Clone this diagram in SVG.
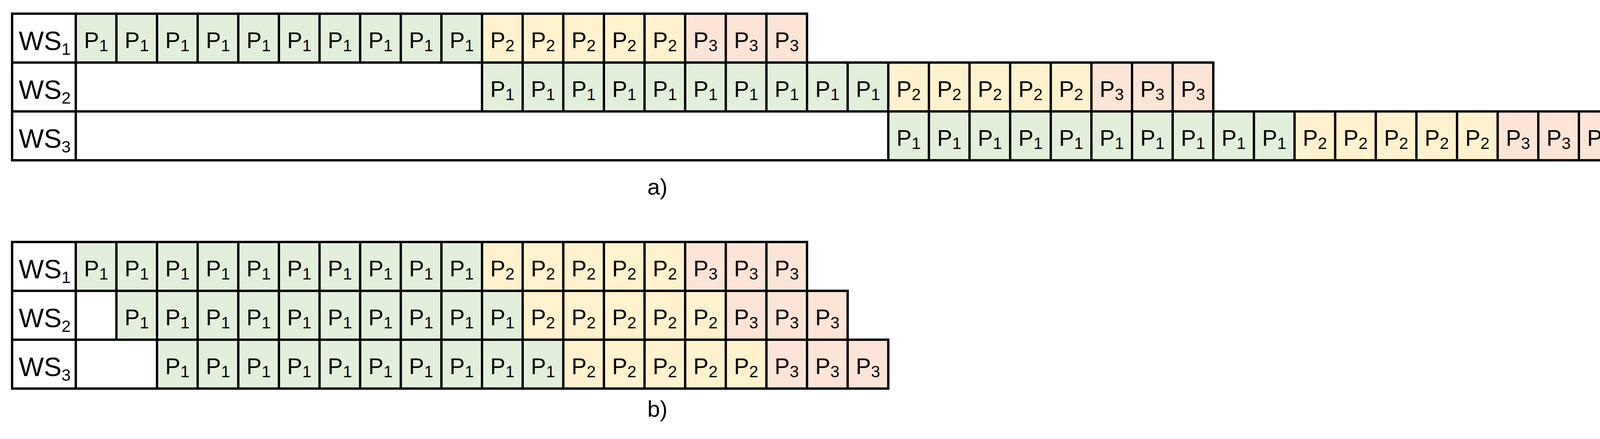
<svg xmlns="http://www.w3.org/2000/svg" width="4176" height="1123" viewBox="0 0 4176 1123">
<style>
.cell{stroke:#000;stroke-width:6}
.w{fill:#fff}.g{fill:#e2efda}.y{fill:#fff2cc}.r{fill:#fce4d6}
text{font-family:"Liberation Sans","Open Sans",sans-serif;fill:#000}
.p{font-size:58px;text-anchor:middle}
.ps{font-size:58px;text-anchor:start}
.l{font-size:68px}
.s{font-size:42px}
.c{font-size:58px;text-anchor:middle}
</style>
<defs/>
<g id="a-ws1" class="cell">
<rect class="w" x="31" y="35" width="163" height="125"/>
<rect class="g" x="194" y="35" width="104" height="125"/>
<rect class="g" x="298" y="35" width="104" height="125"/>
<rect class="g" x="402" y="35" width="104" height="125"/>
<rect class="g" x="506" y="35" width="104" height="125"/>
<rect class="g" x="610" y="35" width="104" height="125"/>
<rect class="g" x="714" y="35" width="104" height="125"/>
<rect class="g" x="818" y="35" width="104" height="125"/>
<rect class="g" x="922" y="35" width="104" height="125"/>
<rect class="g" x="1026" y="35" width="104" height="125"/>
<rect class="g" x="1130" y="35" width="104" height="125"/>
<rect class="y" x="1234" y="35" width="104" height="125"/>
<rect class="y" x="1338" y="35" width="104" height="125"/>
<rect class="y" x="1442" y="35" width="104" height="125"/>
<rect class="y" x="1546" y="35" width="104" height="125"/>
<rect class="y" x="1650" y="35" width="104" height="125"/>
<rect class="r" x="1754" y="35" width="104" height="125"/>
<rect class="r" x="1858" y="35" width="104" height="125"/>
<rect class="r" x="1962" y="35" width="104" height="125"/>
<g stroke="none">
<text class="l" x="48" y="128">WS<tspan class="s" dy="12">1</tspan></text>
<text class="p" x="246" y="123">P<tspan class="s" dy="8">1</tspan></text>
<text class="p" x="350" y="123">P<tspan class="s" dy="8">1</tspan></text>
<text class="p" x="454" y="123">P<tspan class="s" dy="8">1</tspan></text>
<text class="p" x="558" y="123">P<tspan class="s" dy="8">1</tspan></text>
<text class="p" x="662" y="123">P<tspan class="s" dy="8">1</tspan></text>
<text class="p" x="766" y="123">P<tspan class="s" dy="8">1</tspan></text>
<text class="p" x="870" y="123">P<tspan class="s" dy="8">1</tspan></text>
<text class="p" x="974" y="123">P<tspan class="s" dy="8">1</tspan></text>
<text class="p" x="1078" y="123">P<tspan class="s" dy="8">1</tspan></text>
<text class="p" x="1182" y="123">P<tspan class="s" dy="8">1</tspan></text>
<text class="p" x="1286" y="123">P<tspan class="s" dy="8">2</tspan></text>
<text class="p" x="1390" y="123">P<tspan class="s" dy="8">2</tspan></text>
<text class="p" x="1494" y="123">P<tspan class="s" dy="8">2</tspan></text>
<text class="p" x="1598" y="123">P<tspan class="s" dy="8">2</tspan></text>
<text class="p" x="1702" y="123">P<tspan class="s" dy="8">2</tspan></text>
<text class="p" x="1806" y="123">P<tspan class="s" dy="8">3</tspan></text>
<text class="p" x="1910" y="123">P<tspan class="s" dy="8">3</tspan></text>
<text class="p" x="2014" y="123">P<tspan class="s" dy="8">3</tspan></text>
</g>
</g>
<g id="a-ws2" class="cell">
<rect class="w" x="31" y="160" width="163" height="125"/>
<rect class="w" x="194" y="160" width="1040" height="125"/>
<rect class="g" x="1234" y="160" width="104" height="125"/>
<rect class="g" x="1338" y="160" width="104" height="125"/>
<rect class="g" x="1442" y="160" width="104" height="125"/>
<rect class="g" x="1546" y="160" width="104" height="125"/>
<rect class="g" x="1650" y="160" width="104" height="125"/>
<rect class="g" x="1754" y="160" width="104" height="125"/>
<rect class="g" x="1858" y="160" width="104" height="125"/>
<rect class="g" x="1962" y="160" width="104" height="125"/>
<rect class="g" x="2066" y="160" width="104" height="125"/>
<rect class="g" x="2170" y="160" width="104" height="125"/>
<rect class="y" x="2274" y="160" width="104" height="125"/>
<rect class="y" x="2378" y="160" width="104" height="125"/>
<rect class="y" x="2482" y="160" width="104" height="125"/>
<rect class="y" x="2586" y="160" width="104" height="125"/>
<rect class="y" x="2690" y="160" width="104" height="125"/>
<rect class="r" x="2794" y="160" width="104" height="125"/>
<rect class="r" x="2898" y="160" width="104" height="125"/>
<rect class="r" x="3002" y="160" width="104" height="125"/>
<g stroke="none">
<text class="l" x="48" y="253">WS<tspan class="s" dy="12">2</tspan></text>
<text class="p" x="1286" y="248">P<tspan class="s" dy="8">1</tspan></text>
<text class="p" x="1390" y="248">P<tspan class="s" dy="8">1</tspan></text>
<text class="p" x="1494" y="248">P<tspan class="s" dy="8">1</tspan></text>
<text class="p" x="1598" y="248">P<tspan class="s" dy="8">1</tspan></text>
<text class="p" x="1702" y="248">P<tspan class="s" dy="8">1</tspan></text>
<text class="p" x="1806" y="248">P<tspan class="s" dy="8">1</tspan></text>
<text class="p" x="1910" y="248">P<tspan class="s" dy="8">1</tspan></text>
<text class="p" x="2014" y="248">P<tspan class="s" dy="8">1</tspan></text>
<text class="p" x="2118" y="248">P<tspan class="s" dy="8">1</tspan></text>
<text class="p" x="2222" y="248">P<tspan class="s" dy="8">1</tspan></text>
<text class="p" x="2326" y="248">P<tspan class="s" dy="8">2</tspan></text>
<text class="p" x="2430" y="248">P<tspan class="s" dy="8">2</tspan></text>
<text class="p" x="2534" y="248">P<tspan class="s" dy="8">2</tspan></text>
<text class="p" x="2638" y="248">P<tspan class="s" dy="8">2</tspan></text>
<text class="p" x="2742" y="248">P<tspan class="s" dy="8">2</tspan></text>
<text class="p" x="2846" y="248">P<tspan class="s" dy="8">3</tspan></text>
<text class="p" x="2950" y="248">P<tspan class="s" dy="8">3</tspan></text>
<text class="p" x="3054" y="248">P<tspan class="s" dy="8">3</tspan></text>
</g>
</g>
<g id="a-ws3" class="cell">
<rect class="w" x="31" y="285" width="163" height="125"/>
<rect class="w" x="194" y="285" width="2080" height="125"/>
<rect class="g" x="2274" y="285" width="104" height="125"/>
<rect class="g" x="2378" y="285" width="104" height="125"/>
<rect class="g" x="2482" y="285" width="104" height="125"/>
<rect class="g" x="2586" y="285" width="104" height="125"/>
<rect class="g" x="2690" y="285" width="104" height="125"/>
<rect class="g" x="2794" y="285" width="104" height="125"/>
<rect class="g" x="2898" y="285" width="104" height="125"/>
<rect class="g" x="3002" y="285" width="104" height="125"/>
<rect class="g" x="3106" y="285" width="104" height="125"/>
<rect class="g" x="3210" y="285" width="104" height="125"/>
<rect class="y" x="3314" y="285" width="104" height="125"/>
<rect class="y" x="3418" y="285" width="104" height="125"/>
<rect class="y" x="3522" y="285" width="104" height="125"/>
<rect class="y" x="3626" y="285" width="104" height="125"/>
<rect class="y" x="3730" y="285" width="104" height="125"/>
<rect class="r" x="3834" y="285" width="104" height="125"/>
<rect class="r" x="3938" y="285" width="104" height="125"/>
<rect class="r" x="4042" y="285" width="104" height="125"/>
<g stroke="none">
<text class="l" x="48" y="378">WS<tspan class="s" dy="12">3</tspan></text>
<text class="p" x="2326" y="373">P<tspan class="s" dy="8">1</tspan></text>
<text class="p" x="2430" y="373">P<tspan class="s" dy="8">1</tspan></text>
<text class="p" x="2534" y="373">P<tspan class="s" dy="8">1</tspan></text>
<text class="p" x="2638" y="373">P<tspan class="s" dy="8">1</tspan></text>
<text class="p" x="2742" y="373">P<tspan class="s" dy="8">1</tspan></text>
<text class="p" x="2846" y="373">P<tspan class="s" dy="8">1</tspan></text>
<text class="p" x="2950" y="373">P<tspan class="s" dy="8">1</tspan></text>
<text class="p" x="3054" y="373">P<tspan class="s" dy="8">1</tspan></text>
<text class="p" x="3158" y="373">P<tspan class="s" dy="8">1</tspan></text>
<text class="p" x="3262" y="373">P<tspan class="s" dy="8">1</tspan></text>
<text class="p" x="3366" y="373">P<tspan class="s" dy="8">2</tspan></text>
<text class="p" x="3470" y="373">P<tspan class="s" dy="8">2</tspan></text>
<text class="p" x="3574" y="373">P<tspan class="s" dy="8">2</tspan></text>
<text class="p" x="3678" y="373">P<tspan class="s" dy="8">2</tspan></text>
<text class="p" x="3782" y="373">P<tspan class="s" dy="8">2</tspan></text>
<text class="p" x="3886" y="373">P<tspan class="s" dy="8">3</tspan></text>
<text class="p" x="3990" y="373">P<tspan class="s" dy="8">3</tspan></text>
<text class="ps" x="4063" y="373">P<tspan class="s" dy="8">3</tspan></text>
</g>
</g>
<text id="label-a" class="c" x="1683" y="498">a)</text>
<g id="b-ws1" class="cell">
<rect class="w" x="31" y="619" width="163" height="125"/>
<rect class="g" x="194" y="619" width="104" height="125"/>
<rect class="g" x="298" y="619" width="104" height="125"/>
<rect class="g" x="402" y="619" width="104" height="125"/>
<rect class="g" x="506" y="619" width="104" height="125"/>
<rect class="g" x="610" y="619" width="104" height="125"/>
<rect class="g" x="714" y="619" width="104" height="125"/>
<rect class="g" x="818" y="619" width="104" height="125"/>
<rect class="g" x="922" y="619" width="104" height="125"/>
<rect class="g" x="1026" y="619" width="104" height="125"/>
<rect class="g" x="1130" y="619" width="104" height="125"/>
<rect class="y" x="1234" y="619" width="104" height="125"/>
<rect class="y" x="1338" y="619" width="104" height="125"/>
<rect class="y" x="1442" y="619" width="104" height="125"/>
<rect class="y" x="1546" y="619" width="104" height="125"/>
<rect class="y" x="1650" y="619" width="104" height="125"/>
<rect class="r" x="1754" y="619" width="104" height="125"/>
<rect class="r" x="1858" y="619" width="104" height="125"/>
<rect class="r" x="1962" y="619" width="104" height="125"/>
<g stroke="none">
<text class="l" x="48" y="712">WS<tspan class="s" dy="12">1</tspan></text>
<text class="p" x="246" y="707">P<tspan class="s" dy="8">1</tspan></text>
<text class="p" x="350" y="707">P<tspan class="s" dy="8">1</tspan></text>
<text class="p" x="454" y="707">P<tspan class="s" dy="8">1</tspan></text>
<text class="p" x="558" y="707">P<tspan class="s" dy="8">1</tspan></text>
<text class="p" x="662" y="707">P<tspan class="s" dy="8">1</tspan></text>
<text class="p" x="766" y="707">P<tspan class="s" dy="8">1</tspan></text>
<text class="p" x="870" y="707">P<tspan class="s" dy="8">1</tspan></text>
<text class="p" x="974" y="707">P<tspan class="s" dy="8">1</tspan></text>
<text class="p" x="1078" y="707">P<tspan class="s" dy="8">1</tspan></text>
<text class="p" x="1182" y="707">P<tspan class="s" dy="8">1</tspan></text>
<text class="p" x="1286" y="707">P<tspan class="s" dy="8">2</tspan></text>
<text class="p" x="1390" y="707">P<tspan class="s" dy="8">2</tspan></text>
<text class="p" x="1494" y="707">P<tspan class="s" dy="8">2</tspan></text>
<text class="p" x="1598" y="707">P<tspan class="s" dy="8">2</tspan></text>
<text class="p" x="1702" y="707">P<tspan class="s" dy="8">2</tspan></text>
<text class="p" x="1806" y="707">P<tspan class="s" dy="8">3</tspan></text>
<text class="p" x="1910" y="707">P<tspan class="s" dy="8">3</tspan></text>
<text class="p" x="2014" y="707">P<tspan class="s" dy="8">3</tspan></text>
</g>
</g>
<g id="b-ws2" class="cell">
<rect class="w" x="31" y="744" width="163" height="125"/>
<rect class="w" x="194" y="744" width="104" height="125"/>
<rect class="g" x="298" y="744" width="104" height="125"/>
<rect class="g" x="402" y="744" width="104" height="125"/>
<rect class="g" x="506" y="744" width="104" height="125"/>
<rect class="g" x="610" y="744" width="104" height="125"/>
<rect class="g" x="714" y="744" width="104" height="125"/>
<rect class="g" x="818" y="744" width="104" height="125"/>
<rect class="g" x="922" y="744" width="104" height="125"/>
<rect class="g" x="1026" y="744" width="104" height="125"/>
<rect class="g" x="1130" y="744" width="104" height="125"/>
<rect class="g" x="1234" y="744" width="104" height="125"/>
<rect class="y" x="1338" y="744" width="104" height="125"/>
<rect class="y" x="1442" y="744" width="104" height="125"/>
<rect class="y" x="1546" y="744" width="104" height="125"/>
<rect class="y" x="1650" y="744" width="104" height="125"/>
<rect class="y" x="1754" y="744" width="104" height="125"/>
<rect class="r" x="1858" y="744" width="104" height="125"/>
<rect class="r" x="1962" y="744" width="104" height="125"/>
<rect class="r" x="2066" y="744" width="104" height="125"/>
<g stroke="none">
<text class="l" x="48" y="837">WS<tspan class="s" dy="12">2</tspan></text>
<text class="p" x="350" y="832">P<tspan class="s" dy="8">1</tspan></text>
<text class="p" x="454" y="832">P<tspan class="s" dy="8">1</tspan></text>
<text class="p" x="558" y="832">P<tspan class="s" dy="8">1</tspan></text>
<text class="p" x="662" y="832">P<tspan class="s" dy="8">1</tspan></text>
<text class="p" x="766" y="832">P<tspan class="s" dy="8">1</tspan></text>
<text class="p" x="870" y="832">P<tspan class="s" dy="8">1</tspan></text>
<text class="p" x="974" y="832">P<tspan class="s" dy="8">1</tspan></text>
<text class="p" x="1078" y="832">P<tspan class="s" dy="8">1</tspan></text>
<text class="p" x="1182" y="832">P<tspan class="s" dy="8">1</tspan></text>
<text class="p" x="1286" y="832">P<tspan class="s" dy="8">1</tspan></text>
<text class="p" x="1390" y="832">P<tspan class="s" dy="8">2</tspan></text>
<text class="p" x="1494" y="832">P<tspan class="s" dy="8">2</tspan></text>
<text class="p" x="1598" y="832">P<tspan class="s" dy="8">2</tspan></text>
<text class="p" x="1702" y="832">P<tspan class="s" dy="8">2</tspan></text>
<text class="p" x="1806" y="832">P<tspan class="s" dy="8">2</tspan></text>
<text class="p" x="1910" y="832">P<tspan class="s" dy="8">3</tspan></text>
<text class="p" x="2014" y="832">P<tspan class="s" dy="8">3</tspan></text>
<text class="p" x="2118" y="832">P<tspan class="s" dy="8">3</tspan></text>
</g>
</g>
<g id="b-ws3" class="cell">
<rect class="w" x="31" y="869" width="163" height="125"/>
<rect class="w" x="194" y="869" width="208" height="125"/>
<rect class="g" x="402" y="869" width="104" height="125"/>
<rect class="g" x="506" y="869" width="104" height="125"/>
<rect class="g" x="610" y="869" width="104" height="125"/>
<rect class="g" x="714" y="869" width="104" height="125"/>
<rect class="g" x="818" y="869" width="104" height="125"/>
<rect class="g" x="922" y="869" width="104" height="125"/>
<rect class="g" x="1026" y="869" width="104" height="125"/>
<rect class="g" x="1130" y="869" width="104" height="125"/>
<rect class="g" x="1234" y="869" width="104" height="125"/>
<rect class="g" x="1338" y="869" width="104" height="125"/>
<rect class="y" x="1442" y="869" width="104" height="125"/>
<rect class="y" x="1546" y="869" width="104" height="125"/>
<rect class="y" x="1650" y="869" width="104" height="125"/>
<rect class="y" x="1754" y="869" width="104" height="125"/>
<rect class="y" x="1858" y="869" width="104" height="125"/>
<rect class="r" x="1962" y="869" width="104" height="125"/>
<rect class="r" x="2066" y="869" width="104" height="125"/>
<rect class="r" x="2170" y="869" width="104" height="125"/>
<g stroke="none">
<text class="l" x="48" y="962">WS<tspan class="s" dy="12">3</tspan></text>
<text class="p" x="454" y="957">P<tspan class="s" dy="8">1</tspan></text>
<text class="p" x="558" y="957">P<tspan class="s" dy="8">1</tspan></text>
<text class="p" x="662" y="957">P<tspan class="s" dy="8">1</tspan></text>
<text class="p" x="766" y="957">P<tspan class="s" dy="8">1</tspan></text>
<text class="p" x="870" y="957">P<tspan class="s" dy="8">1</tspan></text>
<text class="p" x="974" y="957">P<tspan class="s" dy="8">1</tspan></text>
<text class="p" x="1078" y="957">P<tspan class="s" dy="8">1</tspan></text>
<text class="p" x="1182" y="957">P<tspan class="s" dy="8">1</tspan></text>
<text class="p" x="1286" y="957">P<tspan class="s" dy="8">1</tspan></text>
<text class="p" x="1390" y="957">P<tspan class="s" dy="8">1</tspan></text>
<text class="p" x="1494" y="957">P<tspan class="s" dy="8">2</tspan></text>
<text class="p" x="1598" y="957">P<tspan class="s" dy="8">2</tspan></text>
<text class="p" x="1702" y="957">P<tspan class="s" dy="8">2</tspan></text>
<text class="p" x="1806" y="957">P<tspan class="s" dy="8">2</tspan></text>
<text class="p" x="1910" y="957">P<tspan class="s" dy="8">2</tspan></text>
<text class="p" x="2014" y="957">P<tspan class="s" dy="8">3</tspan></text>
<text class="p" x="2118" y="957">P<tspan class="s" dy="8">3</tspan></text>
<text class="p" x="2222" y="957">P<tspan class="s" dy="8">3</tspan></text>
</g>
</g>
<text id="label-b" class="c" x="1683" y="1066">b)</text>
<g id="connectors"/>
</svg>
